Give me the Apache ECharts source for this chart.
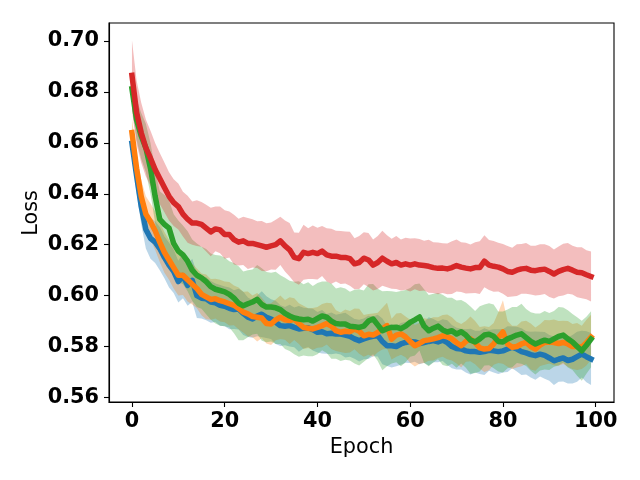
<!DOCTYPE html>
<html><head><meta charset="utf-8">
<script src="https://cdn.jsdelivr.net/npm/echarts@6/dist/echarts.min.js"></script>
<style>html,body{margin:0;padding:0;background:#fff}#c{width:640px;height:480px}</style>
</head><body><div id="c"></div>
<script>
const epochs = Array.from({length:100},(_,i)=>i);
const xTicks = [0,20,40,60,80,100];
const yTicks = [0.56,0.58,0.60,0.62,0.64,0.66,0.68,0.70];

const blueMean = [0.6598,0.6470,0.6350,0.6260,0.6225,0.6210,0.6185,0.6150,0.6120,0.6095,
0.6055,0.6078,0.6040,0.6060,0.6000,0.5990,0.5988,0.5975,0.5972,0.5962,
0.5958,0.5950,0.5945,0.5947,0.5930,0.5915,0.5908,0.5920,0.5927,0.5915,
0.5908,0.5895,0.5882,0.5880,0.5882,0.5875,0.5869,0.5872,0.5874,0.5866,
0.5856,0.5858,0.5850,0.5852,0.5849,0.5849,0.5845,0.5840,0.5830,0.5823,
0.5830,0.5836,0.5840,0.5843,0.5820,0.5803,0.5803,0.5800,0.5810,0.5816,
0.5820,0.5818,0.5812,0.5816,0.5820,0.5823,0.5818,0.5825,0.5815,0.5800,
0.5792,0.5790,0.5783,0.5780,0.5780,0.5777,0.5780,0.5785,0.5783,0.5780,
0.5783,0.5790,0.5797,0.5790,0.5780,0.5775,0.5768,0.5764,0.5770,0.5765,
0.5755,0.5744,0.5750,0.5755,0.5745,0.5750,0.5760,0.5770,0.5760,0.5751];
const blueStd = [0.0060,0.0065,0.0070,0.0075,0.0080,0.0082,0.0085,0.0082,0.0088,0.0085,
0.0082,0.0088,0.0080,0.0085,0.0088,0.0080,0.0085,0.0082,0.0076,0.0080,
0.0078,0.0082,0.0076,0.0080,0.0085,0.0078,0.0074,0.0080,0.0090,0.0082,
0.0078,0.0085,0.0080,0.0075,0.0082,0.0078,0.0090,0.0080,0.0076,0.0082,
0.0080,0.0085,0.0078,0.0082,0.0076,0.0080,0.0088,0.0080,0.0078,0.0082,
0.0080,0.0085,0.0078,0.0082,0.0090,0.0080,0.0085,0.0078,0.0082,0.0080,
0.0085,0.0078,0.0082,0.0080,0.0095,0.0085,0.0080,0.0082,0.0088,0.0085,
0.0082,0.0080,0.0085,0.0090,0.0082,0.0085,0.0092,0.0080,0.0085,0.0088,
0.0085,0.0090,0.0082,0.0088,0.0092,0.0085,0.0090,0.0095,0.0088,0.0092,
0.0090,0.0095,0.0088,0.0092,0.0090,0.0095,0.0098,0.0092,0.0100,0.0102];

const orangeMean = [0.6640,0.6500,0.6390,0.6320,0.6290,0.6255,0.6210,0.6170,0.6140,0.6110,
0.6080,0.6080,0.6062,0.6045,0.6028,0.6005,0.5995,0.5985,0.5988,0.5980,
0.5975,0.5968,0.5962,0.5950,0.5935,0.5928,0.5918,0.5915,0.5912,0.5890,
0.5888,0.5905,0.5915,0.5905,0.5902,0.5908,0.5890,0.5875,0.5872,0.5869,
0.5875,0.5882,0.5890,0.5880,0.5862,0.5856,0.5860,0.5858,0.5869,0.5860,
0.5842,0.5848,0.5845,0.5855,0.5870,0.5882,0.5829,0.5845,0.5850,0.5838,
0.5820,0.5803,0.5812,0.5823,0.5826,0.5830,0.5835,0.5842,0.5838,0.5830,
0.5815,0.5803,0.5820,0.5830,0.5815,0.5795,0.5790,0.5792,0.5810,0.5835,
0.5857,0.5810,0.5797,0.5800,0.5810,0.5816,0.5800,0.5790,0.5805,0.5816,
0.5818,0.5816,0.5812,0.5816,0.5810,0.5800,0.5800,0.5797,0.5815,0.5837];
const orangeStd = [0.0055,0.0060,0.0065,0.0070,0.0072,0.0075,0.0078,0.0080,0.0078,0.0082,
0.0080,0.0078,0.0085,0.0080,0.0078,0.0082,0.0088,0.0080,0.0078,0.0082,
0.0080,0.0085,0.0078,0.0082,0.0080,0.0088,0.0082,0.0095,0.0080,0.0078,
0.0082,0.0080,0.0085,0.0078,0.0092,0.0082,0.0080,0.0085,0.0078,0.0082,
0.0080,0.0085,0.0082,0.0090,0.0080,0.0078,0.0085,0.0082,0.0080,0.0088,
0.0082,0.0080,0.0085,0.0078,0.0082,0.0090,0.0080,0.0085,0.0082,0.0080,
0.0085,0.0082,0.0080,0.0088,0.0082,0.0085,0.0080,0.0082,0.0088,0.0085,
0.0082,0.0085,0.0080,0.0088,0.0085,0.0082,0.0090,0.0085,0.0082,0.0100,
0.0125,0.0090,0.0085,0.0082,0.0088,0.0085,0.0090,0.0085,0.0082,0.0088,
0.0085,0.0090,0.0088,0.0085,0.0090,0.0088,0.0092,0.0085,0.0090,0.0088];

const greenMean = [0.6812,0.6690,0.6627,0.6580,0.6500,0.6390,0.6300,0.6280,0.6265,0.6205,
0.6175,0.6160,0.6135,0.6100,0.6080,0.6070,0.6055,0.6035,0.6025,0.6020,
0.6015,0.6005,0.5990,0.5970,0.5960,0.5968,0.5975,0.5985,0.5965,0.5955,
0.5955,0.5952,0.5945,0.5930,0.5920,0.5912,0.5908,0.5905,0.5907,0.5900,
0.5910,0.5920,0.5915,0.5900,0.5890,0.5888,0.5888,0.5880,0.5878,0.5875,
0.5880,0.5900,0.5908,0.5885,0.5862,0.5870,0.5875,0.5876,0.5870,0.5880,
0.5895,0.5905,0.5916,0.5880,0.5862,0.5872,0.5880,0.5865,0.5857,0.5862,
0.5849,0.5858,0.5845,0.5825,0.5818,0.5830,0.5845,0.5848,0.5840,0.5820,
0.5818,0.5830,0.5837,0.5845,0.5850,0.5835,0.5820,0.5810,0.5818,0.5825,
0.5820,0.5830,0.5840,0.5845,0.5830,0.5818,0.5800,0.5783,0.5805,0.5829];
const greenStd = [0.0070,0.0080,0.0090,0.0095,0.0100,0.0105,0.0110,0.0115,0.0110,0.0115,
0.0120,0.0115,0.0118,0.0120,0.0125,0.0122,0.0128,0.0130,0.0135,0.0138,
0.0135,0.0130,0.0138,0.0145,0.0135,0.0132,0.0128,0.0135,0.0142,0.0138,
0.0135,0.0142,0.0135,0.0140,0.0138,0.0142,0.0148,0.0140,0.0145,0.0138,
0.0140,0.0135,0.0140,0.0148,0.0138,0.0145,0.0140,0.0135,0.0145,0.0150,
0.0140,0.0145,0.0138,0.0142,0.0155,0.0148,0.0142,0.0138,0.0148,0.0142,
0.0135,0.0140,0.0132,0.0145,0.0140,0.0135,0.0130,0.0138,0.0135,0.0130,
0.0132,0.0125,0.0128,0.0132,0.0122,0.0128,0.0120,0.0122,0.0125,0.0118,
0.0120,0.0115,0.0118,0.0110,0.0118,0.0112,0.0115,0.0120,0.0112,0.0115,
0.0112,0.0110,0.0115,0.0108,0.0112,0.0110,0.0115,0.0118,0.0112,0.0110];

const redMean = [0.6865,0.6720,0.6640,0.6580,0.6540,0.6495,0.6460,0.6425,0.6390,0.6365,
0.6350,0.6320,0.6300,0.6285,0.6285,0.6280,0.6265,0.6250,0.6262,0.6258,
0.6240,0.6240,0.6220,0.6210,0.6215,0.6205,0.6205,0.6200,0.6195,0.6190,
0.6195,0.6200,0.6215,0.6195,0.6180,0.6150,0.6145,0.6170,0.6165,0.6170,
0.6165,0.6175,0.6160,0.6155,0.6155,0.6150,0.6150,0.6145,0.6125,0.6130,
0.6147,0.6140,0.6120,0.6130,0.6147,0.6135,0.6125,0.6130,0.6120,0.6125,
0.6120,0.6125,0.6120,0.6118,0.6115,0.6110,0.6107,0.6108,0.6105,0.6110,
0.6118,0.6112,0.6108,0.6105,0.6110,0.6110,0.6135,0.6120,0.6115,0.6112,
0.6105,0.6095,0.6092,0.6100,0.6105,0.6107,0.6100,0.6098,0.6102,0.6104,
0.6095,0.6085,0.6095,0.6102,0.6107,0.6100,0.6092,0.6090,0.6082,0.6075];
const redStd = [0.0138,0.0125,0.0118,0.0112,0.0108,0.0105,0.0100,0.0098,0.0095,0.0092,
0.0090,0.0088,0.0092,0.0085,0.0090,0.0088,0.0092,0.0095,0.0088,0.0092,
0.0095,0.0090,0.0098,0.0092,0.0095,0.0100,0.0095,0.0092,0.0098,0.0094,
0.0092,0.0098,0.0095,0.0100,0.0105,0.0098,0.0102,0.0108,0.0100,0.0105,
0.0102,0.0098,0.0105,0.0108,0.0100,0.0104,0.0102,0.0106,0.0100,0.0104,
0.0102,0.0106,0.0100,0.0104,0.0108,0.0102,0.0098,0.0104,0.0100,0.0102,
0.0104,0.0100,0.0102,0.0098,0.0104,0.0100,0.0102,0.0098,0.0100,0.0104,
0.0102,0.0098,0.0100,0.0096,0.0100,0.0104,0.0102,0.0098,0.0100,0.0096,
0.0098,0.0100,0.0096,0.0102,0.0098,0.0100,0.0096,0.0098,0.0100,0.0098,
0.0100,0.0096,0.0098,0.0102,0.0100,0.0096,0.0098,0.0100,0.0096,0.0098];

const seriesDefs = [
  {name:'blue', color:'#1f77b4', mean:blueMean, std:blueStd},
  {name:'orange', color:'#ff7f0e', mean:orangeMean, std:orangeStd},
  {name:'green', color:'#2ca02c', mean:greenMean, std:greenStd},
  {name:'red', color:'#d62728', mean:redMean, std:redStd}
];

const FONT = 'DejaVu Sans';
const bands = seriesDefs.map(s => ({
  type:'custom', name:s.name+'-band', clip:true, silent:true,
  data:[[0, s.mean[0]]],
  renderItem:function(params, api){
    const pts = [];
    for (let i=0;i<epochs.length;i++) pts.push(api.coord([epochs[i], s.mean[i]+s.std[i]]));
    for (let i=epochs.length-1;i>=0;i--) pts.push(api.coord([epochs[i], s.mean[i]-s.std[i]]));
    return {type:'polygon', shape:{points:pts}, style:{fill:s.color, opacity:0.3, stroke:null}};
  }
}));
const lines = seriesDefs.map(s => ({
  type:'line', name:s.name, showSymbol:false, symbol:'none', silent:true, animation:false,
  data: epochs.map((e,i)=>[e, s.mean[i]]),
  lineStyle:{color:s.color, width:5.5, cap:'square', join:'round'}
}));

const chart = echarts.init(document.getElementById('c'), null, {renderer:'canvas'});
chart.setOption({
  animation:false,
  grid:{left:109, right:26, top:23, bottom:78, show:true, borderColor:'#000', borderWidth:1.1, backgroundColor:'transparent'},
  graphic:[{type:'text', x:32, y:213, rotation:Math.PI/2,
    style:{text:'Loss', fontFamily:FONT, fontSize:20.8, fill:'#000', align:'center', verticalAlign:'middle'}}],
  xAxis:{type:'value', min:-4.95, max:103.95,
    name:'Epoch', nameLocation:'middle', nameGap:35,
    nameTextStyle:{fontFamily:FONT, fontSize:20.8, color:'#000'},
    axisLine:{show:true, onZero:false, lineStyle:{color:'#000', width:1.1}},
    axisTick:{show:true, length:5, inside:false, customValues:xTicks, lineStyle:{color:'#000', width:1.1}},
    axisLabel:{show:true, customValues:xTicks, margin:9, fontFamily:FONT, fontWeight:'bold', fontSize:20.8, color:'#000'},
    splitLine:{show:false}},
  yAxis:{type:'value', min:0.5582, max:0.7071,
    axisLine:{show:true, onZero:false, lineStyle:{color:'#000', width:1.1}},
    axisTick:{show:true, length:5, customValues:yTicks, lineStyle:{color:'#000', width:1.1}},
    axisLabel:{show:true, customValues:yTicks, margin:10, fontFamily:FONT, fontWeight:'bold', fontSize:20.8, color:'#000',
      formatter:v=>Number(v).toFixed(2)},
    splitLine:{show:false}},
  series:[...bands, ...lines]
});
</script></body></html>
